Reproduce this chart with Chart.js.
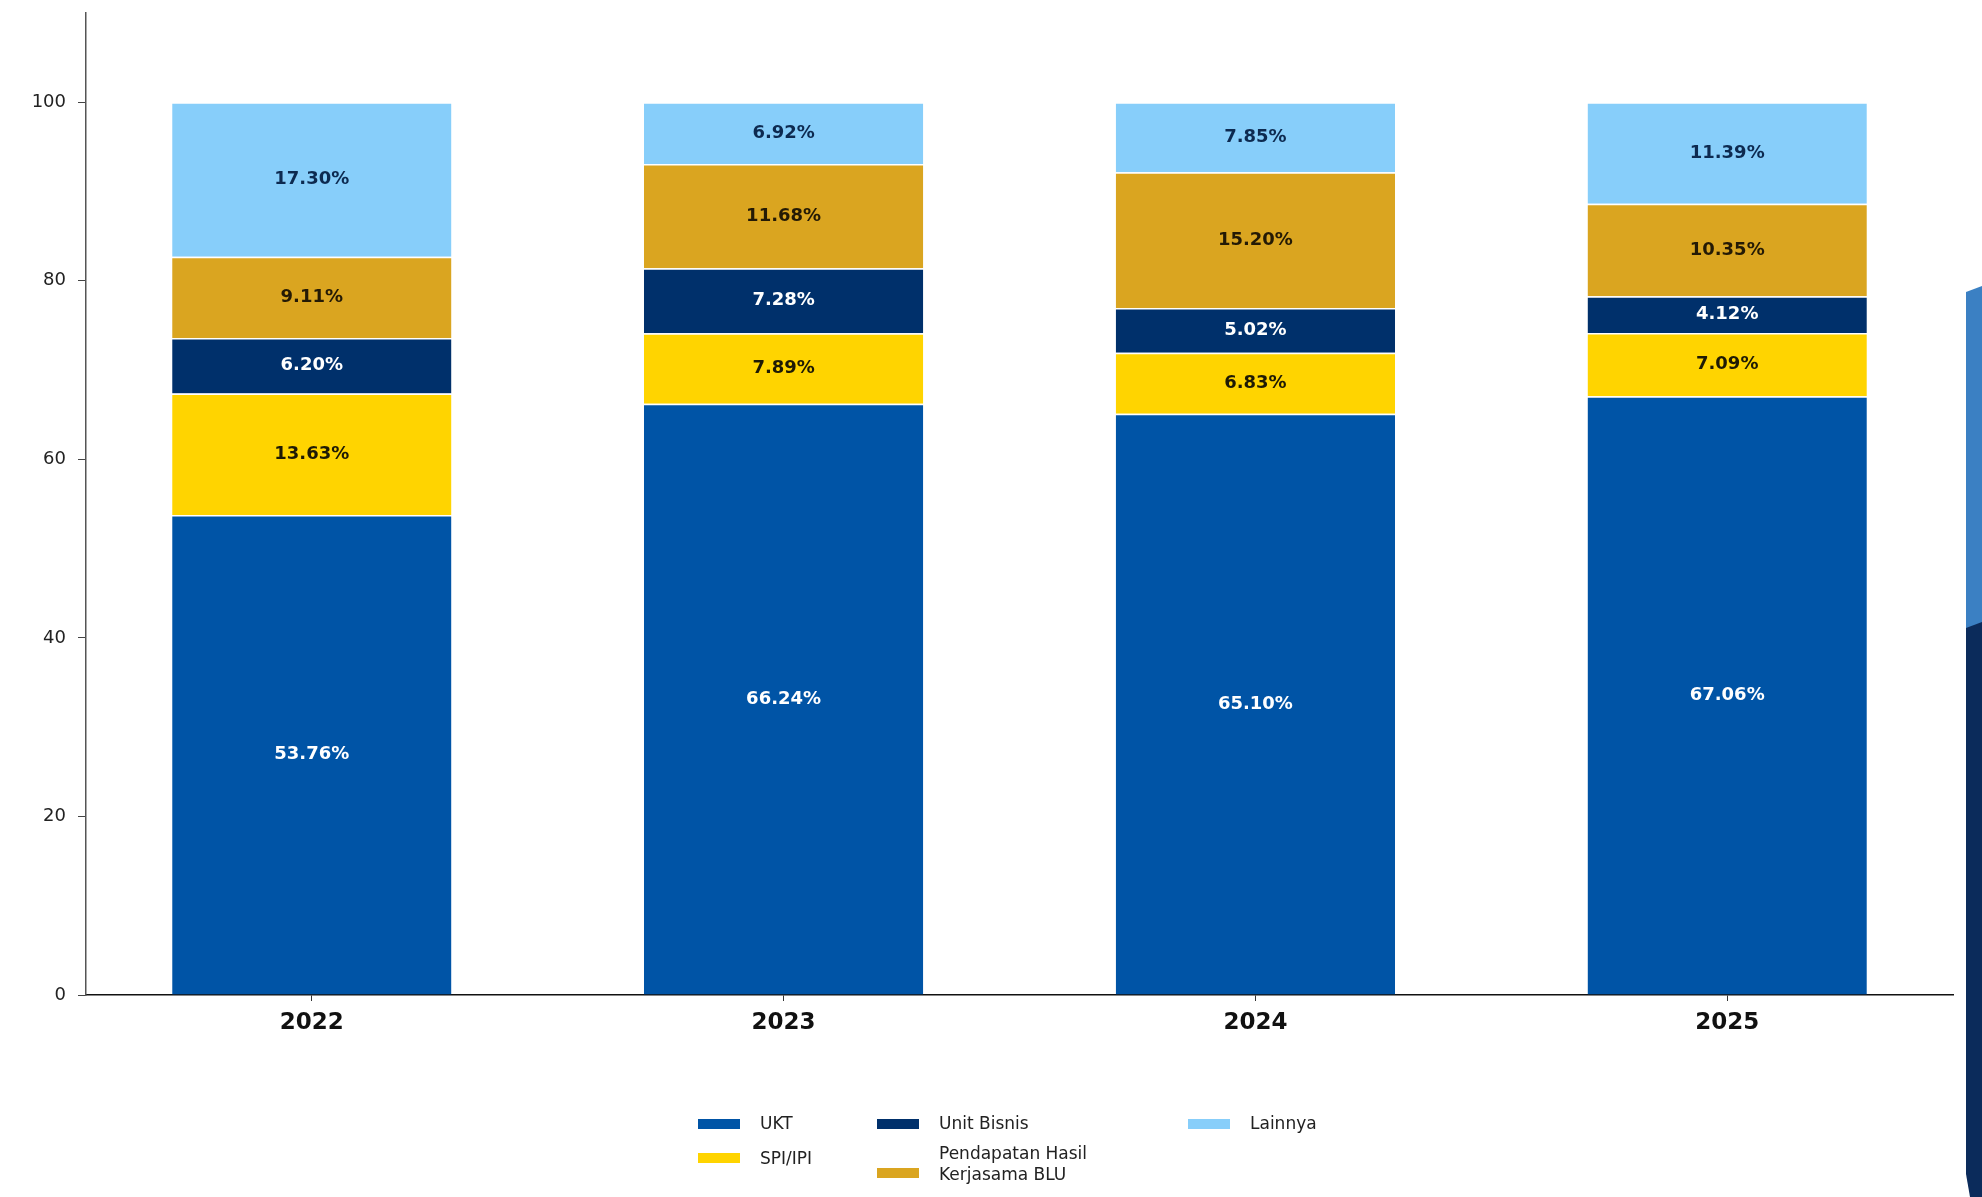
<!DOCTYPE html>
<html>
<head>
<meta charset="utf-8">
<script src="https://cdn.jsdelivr.net/npm/chart.js@4.4.1/dist/chart.umd.min.js"></script>
<style>
html,body{margin:0;padding:0;background:#fff;}
#wrap{position:relative;width:1982px;height:1197px;overflow:hidden;background:#fff;}
#grafico{position:absolute;left:0;top:0;}
.deco-claro{position:absolute;left:1966px;top:286px;width:16px;height:345px;background:#3b80c3;clip-path:polygon(0 6px,100% 0,100% 100%,0 100%);}
.deco-oscuro{position:absolute;left:1966px;top:622px;width:16px;height:575px;background:#0b2b5b;clip-path:polygon(0 6px,100% 0,100% 100%,4px 100%,0 96%);}
.ley{position:absolute;font-family:"DejaVu Sans",sans-serif;font-size:17px;color:#222;line-height:21px;}
.parche{position:absolute;width:42px;height:10px;}
</style>
</head>
<body>
<div id="wrap">
  <canvas id="grafico" width="1982" height="1197"></canvas>
  <div class="deco-claro"></div>
  <div class="deco-oscuro"></div>
  <div id="leyenda"></div>
</div>
<script>
// datos (porcentaje de cada fuente por anio)
const anios = ['2022', '2023', '2024', '2025'];
const ukt = [53.76, 66.24, 65.10, 67.06];
const spi = [13.63, 7.89, 6.83, 7.09];
const unitBisnis = [6.20, 7.28, 5.02, 4.12];
const pendapatan = [9.11, 11.68, 15.20, 10.35];
const lainnya = [17.30, 6.92, 7.85, 11.39];
const yTicks = [0, 20, 40, 60, 80, 100];

const nombres = ['UKT', 'SPI/IPI', 'Unit Bisnis', 'Pendapatan Hasil Kerjasama BLU', 'Lainnya'];
const colores = ['#0054a6', '#ffd400', '#00306b', '#daa520', '#87cefa'];
const colorTexto = ['#ffffff', '#1e1a05', '#ffffff', '#241a05', '#0d2a50'];

const etiquetas = {
    id: 'etiquetas',
    afterDatasetsDraw(chart) {
        const ctx = chart.ctx;
        ctx.save();
        ctx.font = 'bold 18px "DejaVu Sans"';
        ctx.textAlign = 'center';
        ctx.textBaseline = 'middle';
        chart.data.datasets.forEach((ds, i) => {
            const meta = chart.getDatasetMeta(i);
            meta.data.forEach((barra, j) => {
                ctx.fillStyle = colorTexto[i];
                ctx.fillText(ds.data[j].y.toFixed(2) + '%', barra.x, (barra.y + barra.base) / 2);
            });
        });
        ctx.restore();
    }
};

let series = [ukt, spi, unitBisnis, pendapatan, lainnya];
let datos = {
    datasets: series.map((serie, i) => ({
        label: nombres[i],
        data: serie.map((v, j) => ({x: j, y: v})),
        backgroundColor: colores[i],
        borderColor: '#ffffff',
        borderWidth: {top: 1.5, left: 0, right: 0, bottom: 0},
        borderSkipped: false,
        barPercentage: 0.592,
        categoryPercentage: 1.0,
    }))
};

let opciones = {
    responsive: false,
    animation: false,
    layout: {padding: {top: 13, right: 29, left: 0, bottom: 0}},
    plugins: {legend: {display: false}, tooltip: {enabled: false}},
    scales: {
        x: {
            type: 'linear',
            stacked: true,
            offset: false,
            min: -0.4786,
            max: 3.4786,
            afterBuildTicks: function(escala) { escala.ticks = anios.map((a, j) => ({value: j})); },
            grid: {display: true, drawOnChartArea: false, offset: false, tickLength: 6, color: '#333'},
            border: {display: true, color: '#111', width: 1.5},
            ticks: {
                color: '#111', padding: 8, font: {family: 'DejaVu Sans', size: 23, weight: 'bold'},
                callback: function(v) { return anios[v]; }
            },
            afterFit: function(escala) { escala.height = 202; escala.paddingLeft = 0; escala.paddingRight = 0; }
        },
        y: {
            stacked: true,
            min: 0,
            max: 110,
            afterBuildTicks: function(escala) { escala.ticks = yTicks.map(v => ({value: v})); },
            grid: {display: true, drawOnChartArea: false, tickLength: 8, color: '#444'},
            border: {display: true, color: '#555', width: 1.5},
            ticks: {color: '#222', padding: 12, font: {family: 'DejaVu Sans', size: 18}},
            afterFit: function(escala) { escala.width = 86; escala.paddingTop = 0; escala.paddingBottom = 0; }
        }
    }
};

let G1 = new Chart(document.getElementById('grafico').getContext('2d'), {
    type: 'bar',
    data: datos,
    options: opciones,
    plugins: [etiquetas],
});

// leyenda en 3 columnas, como la original
const leyenda = document.getElementById('leyenda');
const entradas = [
    {i: 0, px: 698, py: 1119, tx: 760, ty: 1113, txt: 'UKT'},
    {i: 1, px: 698, py: 1153, tx: 760, ty: 1148, txt: 'SPI/IPI'},
    {i: 2, px: 877, py: 1119, tx: 939, ty: 1113, txt: 'Unit Bisnis'},
    {i: 3, px: 877, py: 1168, tx: 939, ty: 1143, txt: 'Pendapatan Hasil<br>Kerjasama BLU'},
    {i: 4, px: 1188, py: 1119, tx: 1250, ty: 1113, txt: 'Lainnya'},
];
entradas.forEach(e => {
    let p = document.createElement('div');
    p.className = 'parche';
    p.style.left = e.px + 'px';
    p.style.top = e.py + 'px';
    p.style.background = colores[e.i];
    leyenda.appendChild(p);
    let t = document.createElement('div');
    t.className = 'ley';
    t.style.left = e.tx + 'px';
    t.style.top = e.ty + 'px';
    t.innerHTML = e.txt;
    leyenda.appendChild(t);
});
</script>
</body>
</html>
